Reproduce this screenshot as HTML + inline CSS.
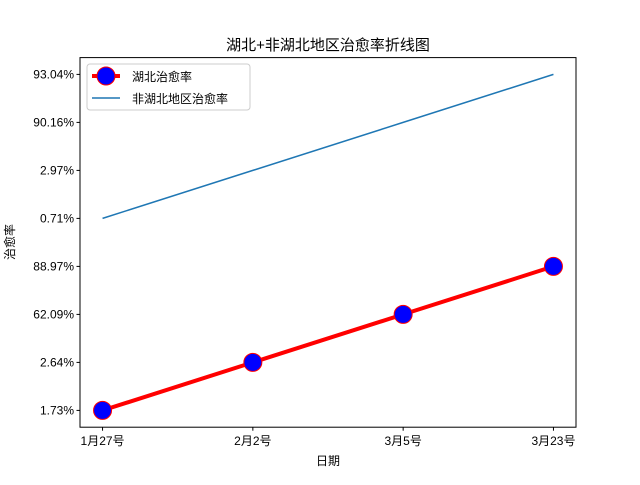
<!DOCTYPE html>
<html><head><meta charset="utf-8"><style>
body{margin:0;background:#fff;}
svg text{font-family:"Liberation Sans","Noto Sans CJK SC",sans-serif;fill:#000;}
</style></head><body>
<svg id="chart" width="640" height="480" xmlns="http://www.w3.org/2000/svg">
<rect width="640" height="480" fill="#fff"/>
<g id="plot"></g>
</svg>
<script>
const categories = ["1月27号","2月2号","3月5号","3月23号"];
const yCategories = ["1.73%","2.64%","62.09%","88.97%","0.71%","2.97%","90.16%","93.04%"];
const hubeiValues = ["1.73%","2.64%","62.09%","88.97%"];
const otherValues = ["0.71%","2.97%","90.16%","93.04%"];

const L=80,R=576,T=57.6,B=427.2;
const NS="http://www.w3.org/2000/svg";
const g=document.getElementById('plot');
function xs(i){return L+(i+0.15)/(categories.length-1+0.3)*(R-L);}
function ys(v){const i=yCategories.indexOf(v);return B-(i+0.35)/(yCategories.length-1+0.7)*(B-T);}
function yi(i){return ys(yCategories[i]);}
function mk(tag,attrs,parent){const e=document.createElementNS(NS,tag);for(const k in attrs)e.setAttribute(k,attrs[k]);(parent||g).appendChild(e);return e;}
function txt(s,attrs){const e=mk('text',attrs);e.textContent=s;return e;}

const p2=otherValues.map((v,i)=>xs(i)+','+ys(v)).join(' ');
const l2=mk('polyline',{points:p2,fill:'none',stroke:'#1f77b4','stroke-width':1.5});


const p1=hubeiValues.map((v,i)=>xs(i)+','+ys(v)).join(' ');
const l1=mk('polyline',{points:p1,fill:'none',stroke:'#ff0000','stroke-width':4});


hubeiValues.forEach((v,i)=>{
  const c=mk('circle',{cx:xs(i),cy:ys(v),r:9,fill:'#0000ff',stroke:'#ff0000','stroke-width':1});
  
  
});

const fr=mk('rect',{x:L,y:T,width:R-L,height:B-T,fill:'none',stroke:'#000','stroke-width':1});



categories.forEach((c,i)=>{
  const x=xs(i);
  mk('line',{x1:x,x2:x,y1:B,y2:B+3.5,stroke:'#000'});
  const t=txt(c,{x:x,y:B+18,'text-anchor':'middle','font-size':12});
  
  
});
yCategories.forEach((c,i)=>{
  const y=yi(i);
  mk('line',{x1:L-3.5,x2:L,y1:y,y2:y,stroke:'#000'});
  const t=txt(c,{x:L-6,y:y+4,'text-anchor':'end','font-size':12});
  
  
});

const title=txt('湖北+非湖北地区治愈率折线图',{x:328,y:50,'text-anchor':'middle','font-size':15});


const xt=txt('日期',{x:328,y:465,'text-anchor':'middle','font-size':12});


const yt=txt('治愈率',{x:0,y:0,'text-anchor':'middle','font-size':12,transform:'translate(14,242) rotate(-90)'});



const lg=mk('g',{});


mk('rect',{x:87,y:64,width:163,height:46,rx:3,fill:'#fff',stroke:'#ccc','stroke-width':1},lg);
mk('line',{x1:92,x2:120,y1:76,y2:76,stroke:'#ff0000','stroke-width':4},lg);
mk('circle',{cx:106,cy:76,r:9,fill:'#0000ff',stroke:'#ff0000'},lg);
const e1=mk('text',{x:132,y:81,'font-size':12},lg);e1.textContent='湖北治愈率';


mk('line',{x1:92,x2:120,y1:98,y2:98,stroke:'#1f77b4','stroke-width':1.5},lg);
const e2=mk('text',{x:132,y:103,'font-size':12},lg);e2.textContent='非湖北地区治愈率';


</script>
</body></html>
